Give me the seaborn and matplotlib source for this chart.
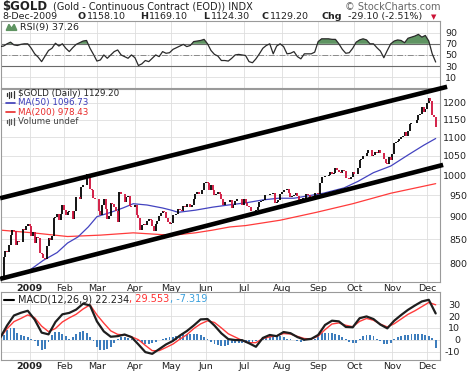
import numpy as np
import pandas as pd
import matplotlib
matplotlib.use("Agg")
import matplotlib.pyplot as plt
from matplotlib.ticker import NullLocator
import seaborn as sns

# daily closes, 8-Dec-2008 .. 8-Dec-2009 (one list per month)
close_dec08 = [772, 775, 812, 825, 823, 837, 860, 871, 868, 838, 846, 845, 844, 872, 871, 880, 884]
close_jan = [878, 857, 865, 842, 854, 853, 821, 820, 810, 808, 836, 853, 849, 858, 898, 900, 907, 893, 907, 928]
close_feb = [916, 904, 910, 912, 914, 894, 913, 946, 947, 942, 969, 975, 976, 1002, 993, 965, 964, 944, 942]
close_mar = [940, 913, 905, 928, 940, 918, 895, 902, 932, 930, 922, 914, 887, 958, 954, 954, 934, 945, 948, 924, 923, 922]
close_apr = [926, 903, 896, 870, 882, 884, 881, 890, 894, 892, 880, 867, 884, 890, 902, 908, 912, 910, 898, 889, 883]
close_may = [886, 904, 903, 907, 918, 915, 913, 925, 923, 930, 929, 923, 926, 940, 952, 958, 952, 952, 964, 979]
close_jun = [983, 980, 963, 974, 962, 950, 952, 957, 953, 942, 928, 934, 935, 933, 938, 921, 928, 937, 940, 940, 940, 927]
close_jul = [942, 931, 925, 923, 912, 914, 912, 915, 922, 935, 936, 938, 950, 951, 951, 954, 953, 955, 931, 935, 938, 954]
close_aug = [958, 964, 962, 966, 955, 945, 948, 951, 955, 949, 936, 940, 943, 943, 953, 950, 946, 944, 946, 955, 955]
close_sep = [953, 979, 996, 996, 997, 997, 1000, 1007, 1002, 1006, 1018, 1013, 1007, 1005, 1014, 1011, 993, 992, 991, 995, 1007]
close_oct = [1002, 1003, 1017, 1039, 1041, 1049, 1050, 1056, 1064, 1064, 1050, 1052, 1061, 1058, 1064, 1058, 1056, 1041, 1030, 1027, 1047, 1040]
close_nov = [1055, 1084, 1088, 1090, 1096, 1102, 1105, 1114, 1105, 1119, 1139, 1141, 1142, 1142, 1148, 1164, 1168, 1188, 1174, 1182]
close_dec09 = [1200, 1215, 1206, 1163, 1158, 1129]

holidays = ["2008-12-25", "2009-01-01", "2009-01-19", "2009-02-16", "2009-04-10",
            "2009-05-25", "2009-07-03", "2009-09-07", "2009-11-26"]

# moving averages (trading-day index, value)
ma50_idx = [17, 25, 33, 39, 45, 51, 56, 64, 71, 77, 85, 94, 99, 103, 113, 123, 132, 142, 152,
            161, 170, 187, 199, 207, 216, 226, 236, 245, 252]
ma50_val = [786, 806, 822, 842, 855, 877, 900, 910, 920, 930, 927, 920, 915, 910, 915, 922, 927, 932, 939,
            943, 943, 955, 968, 984, 1006, 1023, 1052, 1078, 1096.73]
ma200_idx = [0, 19, 39, 58, 77, 94, 103, 113, 123, 133, 142, 162, 183, 204, 226, 252]
ma200_val = [870, 864, 856, 859, 864, 860, 860, 864, 870, 877, 880, 892, 910, 930, 955, 978.43]

# channel lines (index, price) at both ends
upper_line = ([0, 258.6], [943, 1250])
lower_line = ([0, 256.3], [769, 1026])

# RSI(9), every 2nd trading day
rsi_vals = [65, 66, 70, 73, 68, 67, 69, 70, 70, 62,
            52, 46, 38, 48, 58, 62, 71, 66, 70, 62,
            56, 63, 69, 72, 75, 76, 62, 51, 39, 41,
            50, 44, 50, 56, 59, 50, 47, 44, 50, 45,
            31, 34, 40, 38, 44, 50, 47, 56, 53, 54,
            60, 63, 66, 69, 65, 67, 74, 75, 76, 78,
            70, 58, 51, 48, 40, 40, 39, 44, 50, 51,
            50, 49, 38, 36, 43, 52, 62, 67, 70, 52,
            66, 70, 65, 52, 53, 56, 47, 43, 52, 52,
            52, 55, 74, 79, 79, 79, 78, 78, 70, 60,
            53, 54, 62, 73, 77, 79, 77, 70, 70, 63,
            57, 45, 58, 70, 75, 77, 76, 72, 80, 82,
            84, 87, 82, 85, 75, 52, 37.26]

# MACD(12,26,9) and signal, every 4th trading day
macd_vals = [1.5, 12, 20.5, 22.8, 24.5, 17, 6, 4.5, 15, 21.5,
             22.7, 25.5, 30.5, 29, 15.5, 7, 2.5, 3, 4.4, 2.2,
             -4, -10.5, -12, -8, -4, -1, 3.5, 7.3, 12, 17.2,
             17.5, 12, 5.4, 0.5, -0.3, -0.4, -3, -6, 1.5, 4,
             3, 6.5, 5.5, 2.2, 0, 0.7, 4, 12.5, 16.1, 15.5,
             10.8, 10.5, 18.2, 19.7, 17.5, 12.8, 9.6, 16.1, 20.9, 25.3,
             29, 32.4, 33.8, 22.234]
signal_vals = [1.5, 9.3, 15.3, 18, 21, 18.5, 11.5, 6.8, 9.5, 15,
               18.5, 21.5, 26, 29.5, 21, 14, 7.5, 4.5, 4, 2.5,
               0, -4.8, -9.3, -9.3, -6.6, -3.7, 0.5, 4.2, 9.4, 13.4,
               16, 14.6, 10, 5, 2.2, -0.6, -2.6, -2.5, 1, 2.4,
               3.4, 5.2, 4.8, 2.8, 1, 0.6, 3, 8.5, 13.3, 14.2,
               12.2, 11, 15.5, 18, 16.5, 13.2, 10.8, 13.5, 17.5, 21.5,
               24.5, 28, 31.5, 29.553]
# histogram, every 2nd trading day
hist_vals = [1, 4, 8, 10, 9.5, 6, 4, 3, 2, 1,
             -1, -5, -8.5, -8, -2, 4, 6.5, 6.5, 5, 3.5,
             1, 2, 5, 6.5, 7, 5.5, 2, -1, -6, -9,
             -9, -8, -6, -2.5, 0.5, 2, 2.5, 1.5, 0.5, -0.5,
             -1, -2.5, -3.5, -3.5, -3, -2, -0.5, 0.5, 1.5, 2,
             2.5, 3.5, 4, 4.5, 5, 5, 5, 4.5, 4, 2.5,
             0.5, -2, -3.5, -4.5, -5, -5, -4.5, -3, -2.5, -2.5,
             -2.5, -3, -3, -2, -1, 0, 1.5, 3, 4, 4,
             3.5, 3, 2, 1, 0.5, -0.5, -1.5, -2, -1.5, -0.5,
             0.5, 1, 3, 5.5, 6, 6, 5.5, 5, 4, 2.5,
             0.5, -2, -3, -2.5, 1, 3, 4, 4, 3, 1,
             -1.5, -3.5, -4, -2.5, 0.5, 2.5, 3.5, 4, 4, 4.5,
             5, 5, 5, 4, 3, 1.5, -7.319]

price_ticks = [800, 850, 900, 950, 1000, 1050, 1100, 1150, 1200]
rsi_ticks = [10, 30, 50, 70, 90]
macd_ticks = [-10, 0, 10, 20, 30]

sns.set_style("white")
plt.rcParams["font.family"] = ["DejaVu Sans"]

closes = np.array(close_dec08 + close_jan + close_feb + close_mar + close_apr + close_may + close_jun
                  + close_jul + close_aug + close_sep + close_oct + close_nov + close_dec09, dtype=float)
dates = pd.bdate_range("2008-12-08", "2009-12-08", freq="C", holidays=holidays)
idx = np.arange(len(closes))
month_idx = [i for i in range(1, len(dates)) if dates[i].month != dates[i - 1].month]
month_lbl = ["2009" if dates[i].month == 1 else dates[i].strftime("%b") for i in month_idx]

W, H = 471, 376
fig = plt.figure(figsize=(W / 100, H / 100), dpi=100)


def panel(top, bottom):
    return fig.add_axes([1 / W, 1 - bottom / H, 439 / W, (bottom - top) / H])


def style(a, ticks, right_px, show_x):
    a.set_xlim(0.5, 254.5)
    a.set_xticks(month_idx)
    a.set_xticklabels(month_lbl if show_x else [])
    a.yaxis.tick_right()
    a.yaxis.set_minor_locator(NullLocator())
    a.set_yticks(ticks)
    a.set_yticklabels([str(t) for t in ticks])
    a.grid(True, color="#dedede", lw=0.6, zorder=0)
    a.set_axisbelow(True)
    a.tick_params(axis="both", length=0, labelsize=6.8, colors="#222222")
    a.tick_params(axis="x", pad=1.5, labelbottom=show_x)
    a.tick_params(axis="y", pad=(right_px - 440) * 0.72)
    for t in a.get_yticklabels():
        t.set_horizontalalignment("right")
    if show_x:
        a.get_xticklabels()[0].set_fontweight("bold")
    for s in a.spines.values():
        s.set_color("#9a9a9a")
        s.set_linewidth(0.8)
    a.set_xlabel("")
    a.set_ylabel("")


# ---- RSI panel ----
ax_rsi = panel(21, 88)
rsi_idx = np.arange(0, len(closes), 2)
rsi = np.array(rsi_vals)
ax_rsi.set_ylim(-9.4, 111)
ax_rsi.fill_between(rsi_idx, 70, rsi, where=rsi > 70, interpolate=True, color="#5f9462", lw=0, zorder=2)
ax_rsi.axhline(70, color="#6a6a6a", lw=0.8, zorder=1)
ax_rsi.axhline(30, color="#6a6a6a", lw=0.8, zorder=1)
ax_rsi.axhline(50, color="#8a8a8a", lw=0.7, ls=(0, (6, 2, 1, 2)), zorder=1)
sns.lineplot(x=rsi_idx, y=rsi, ax=ax_rsi, color="#2a2a2a", lw=0.9, zorder=3)
style(ax_rsi, rsi_ticks, 457, False)
ax_rsi.text(19 / 439, 0.905, "RSI(9) 37.26", transform=ax_rsi.transAxes, fontsize=6.8, va="center", color="#222222")
ax_rsi.fill([0.012, 0.018, 0.024, 0.030, 0.036, 0.036, 0.012], [0.86, 0.95, 0.89, 0.95, 0.86, 0.86, 0.86],
            transform=ax_rsi.transAxes, color="#5f9462", clip_on=False)

# ---- price panel ----
ax = panel(89, 282)
ax.set_yscale("log")
ax.set_ylim(763, 1243)
prev = np.r_[closes[0], closes[:-1]]
up = closes >= prev
ax.vlines(idx[up], prev[up], closes[up], color="black", lw=1.3, zorder=3)
ax.vlines(idx[~up], closes[~up], prev[~up], color="#d0103a", lw=1.3, zorder=3)
sns.lineplot(x=ma200_idx, y=ma200_val, ax=ax, color="#ff3b3b", lw=0.9, zorder=2)
sns.lineplot(x=ma50_idx, y=ma50_val, ax=ax, color="#4343c0", lw=0.9, zorder=2)
for xs, ys in (upper_line, lower_line):
    ax.plot(xs, ys, color="black", lw=3.3, solid_capstyle="butt", clip_on=False, zorder=5)
style(ax, price_ticks, 467, True)

legend_rows = [("$GOLD (Daily) 1129.20", "#222222"), ("MA(50) 1096.73", "#3b3bb8"),
               ("MA(200) 978.43", "#e82a2a"), ("Volume undef", "#444444")]
row_y = [5, 14, 23, 32]
for (txt, col), ry in zip(legend_rows, row_y):
    ax.text(17 / 439, 1 - ry / 193, txt, transform=ax.transAxes, fontsize=6.3, va="center", color=col)
ax.plot([5 / 439, 14 / 439], [1 - row_y[1] / 193] * 2, transform=ax.transAxes, color="#3b3bb8", lw=1.2)
ax.plot([5 / 439, 14 / 439], [1 - row_y[2] / 193] * 2, transform=ax.transAxes, color="#e82a2a", lw=1.2)
for ry, col in ((row_y[0], "#333333"), (row_y[3], "#555555")):
    yy = 1 - ry / 193
    for j, hgt in enumerate([0.012, 0.02, 0.015, 0.022]):
        xx = (6 + 2.2 * j) / 439
        ax.plot([xx, xx], [yy - hgt, yy + hgt * 0.6], transform=ax.transAxes, color=col, lw=0.9)

# ---- MACD panel ----
ax_m = panel(292, 360)
ax_m.set_ylim(-17.2, 40.4)
ax_m.bar(np.arange(0, len(closes), 2), hist_vals, width=1.1, color="#3d7dbd", lw=0, zorder=2)
macd_idx = np.arange(0, len(closes), 4)
sns.lineplot(x=macd_idx, y=signal_vals, ax=ax_m, color="#ff3b3b", lw=1.0, zorder=3)
sns.lineplot(x=macd_idx, y=macd_vals, ax=ax_m, color="#1e1e1e", lw=1.6, zorder=4)
style(ax_m, macd_ticks, 460, True)
ax_m.plot([3 / 439, 13 / 439], [0.885, 0.885], transform=ax_m.transAxes, color="black", lw=1.5)

# chain the three coloured MACD values one after another
fig.canvas.draw()
renderer = fig.canvas.get_renderer()
x_px = 18
for s, col in (("MACD(12,26,9) 22.234", "#222222"), (", 29.553", "#ff3030"), (", -7.319", "#3aa0dd")):
    t = fig.text(x_px / W, 1 - 299 / H, s, fontsize=7, va="center", ha="left", color=col)
    x_px += t.get_window_extent(renderer).width


# ---- header ----
def htext(x, y, s, **kw):
    kw.setdefault("fontsize", 6.8)
    kw.setdefault("color", "#222222")
    fig.text(x / W, 1 - y / H, s, va="center", ha="left", **kw)


htext(2, 6.5, "$GOLD", fontsize=8.5, fontweight="bold")
htext(53, 6.5, "(Gold - Continuous Contract (EOD)) INDX", fontsize=7)
htext(345, 6.5, "© StockCharts.com", color="#666666", fontsize=7)
htext(2, 16.5, "8-Dec-2009")
for x, s, bold in ((78, "O", True), (87, "1158.10", False), (140, "H", True), (149, "1169.10", False),
                   (203, "L", True), (211, "1124.30", False), (262, "C", True), (270, "1129.20", False),
                   (322, "Chg", True), (348, "-29.10 (-2.51%)", False)):
    htext(x, 16.5, s, fontweight="bold" if bold else "normal")
htext(431, 17, "▼", color="#cc1236", fontsize=5)

fig.savefig("out.png", dpi=100)
